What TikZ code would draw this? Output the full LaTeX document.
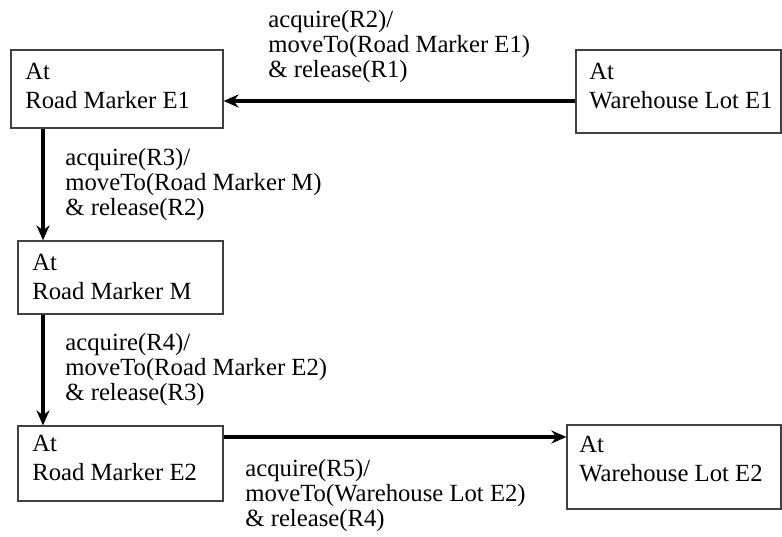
\documentclass[tikz,border=0pt]{standalone}
\usepackage{fontspec}
\setmainfont{Liberation Serif}
\usetikzlibrary{arrows.meta,fit}
\begin{document}
\begin{tikzpicture}[x=0.5bp,y=-0.5bp,
  box/.style={draw=black!75,line width=0.6bp,inner sep=0pt,rectangle},
  boxtext/.style={anchor=west,inner sep=0pt,align=left,font=\fontsize{12.35bp}{14.5bp}\selectfont},
  lbl/.style={anchor=west,inner sep=0pt,align=left,font=\fontsize{12.35bp}{12.5bp}\selectfont},
  arr/.style={line width=1.7bp,-{Stealth[length=7.5bp,width=6.5bp]}}]
\useasboundingbox (0,0) rectangle (782,537);
% boxes
\node[box,fit={(11,50) (223,128)}] (e1) {};
\node[box,fit={(576,50) (781,133)}] (w1) {};
\node[box,fit={(18,241) (223,314)}] (m) {};
\node[box,fit={(18,426) (223,501)}] (e2) {};
\node[box,fit={(567,425) (781,509)}] (w2) {};
% box texts
\node[boxtext] (te1) at (25,86) {At\\Road Marker E1};
\node[boxtext] (tw1) at (589,86) {At\\Warehouse Lot E1};
\node[boxtext] (tm) at (32,277) {At\\Road Marker M};
\node[boxtext] (te2) at (32,458) {At\\Road Marker E2};
\node[boxtext] (tw2) at (579,459) {At\\Warehouse Lot E2};
% helper coordinates
\coordinate (ytop) at (0,101);
\coordinate (ybot) at (0,437);
\coordinate (xv) at (43,0);
% connectors
\draw[arr] (w1.west |- ytop) -- (e1.east |- ytop);
\draw[arr] (xv |- e1.south) -- (xv |- m.north);
\draw[arr] (xv |- m.south) -- (xv |- e2.north);
\draw[arr] (e2.east |- ybot) -- (w2.west |- ybot);
% labels
\node[lbl] (l1) at (268,47) {acquire(R2)/\\moveTo(Road Marker E1)\\\& release(R1)};
\node[lbl] (l2) at (65,185) {acquire(R3)/\\moveTo(Road Marker M)\\\& release(R2)};
\node[lbl] (l3) at (65,370) {acquire(R4)/\\moveTo(Road Marker E2)\\\& release(R3)};
\node[lbl] (l4) at (245,496) {acquire(R5)/\\moveTo(Warehouse Lot E2)\\\& release(R4)};
\end{tikzpicture}
\end{document}
